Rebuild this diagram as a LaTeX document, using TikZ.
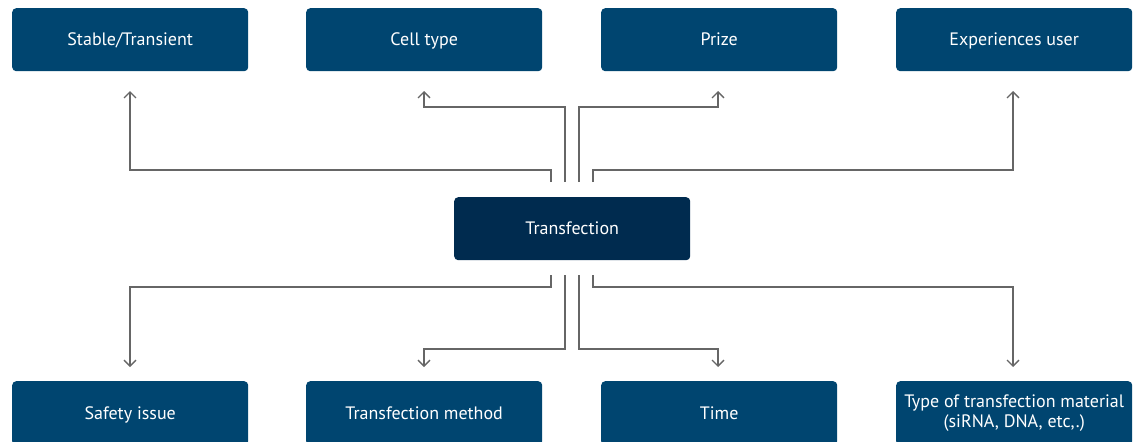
\documentclass[tikz,border=0pt]{standalone}
\usepackage{fontspec}
\setmainfont{PT Sans}
\usetikzlibrary{arrows.meta}
\definecolor{boxblue}{HTML}{004570}
\definecolor{centerblue}{HTML}{002B4F}
\definecolor{linegray}{HTML}{666666}
\begin{document}
\begin{tikzpicture}[x=1pt,y=-1pt,
  box/.style={fill=boxblue, rounded corners=4pt, text=white, font=\fontsize{18}{20}\selectfont, align=center, minimum width=236pt, minimum height=63pt, inner sep=0pt, anchor=north west},
  one/.style={text height=2.75ex, text depth=0.25ex},
  centerbox/.style={box, fill=centerblue},
  conn/.style={draw=linegray, line width=1.3pt, -{Straight Barb[length=6pt,width=12pt,line width=1.3pt]}}
]
\useasboundingbox (0,0) rectangle (1136,442);
\node[box, one] (st) at (12,8) {Stable/Transient};
\node[box, one] (ct) at (306,8) {Cell type};
\node[box, one] (pr) at (601,8) {Prize};
\node[box, one] (eu) at (896,8) {Experiences user};
\node[centerbox, one] (tr) at (454,197) {Transfection};
\node[box, one, minimum height=64pt] (si) at (12,381) {Safety issue};
\node[box, one, minimum height=64pt] (tm) at (306,381) {Transfection method};
\node[box, one, minimum height=64pt] (ti) at (601,381) {Time};
\node[box, minimum height=64pt] (ty) at (896,381) {Type of transfection material\\(siRNA, DNA, etc,.)};
% top connectors
\coordinate (a1) at (551,182);
\coordinate (a2) at (565,182);
\coordinate (a3) at (579,182);
\coordinate (a4) at (593,182);
\coordinate (t1) at (130,91);
\coordinate (t2) at (424,91);
\coordinate (t3) at (718,91);
\coordinate (t4) at (1013,91);
\draw[conn] (a1) |- (300,170) -| (t1);
\draw[conn] (a2) |- (500,107) -| (t2);
\draw[conn] (a3) |- (650,107) -| (t3);
\draw[conn] (a4) |- (800,170) -| (t4);
% bottom connectors
\coordinate (b1) at (551,275);
\coordinate (b2) at (565,275);
\coordinate (b3) at (579,275);
\coordinate (b4) at (593,275);
\coordinate (u1) at (130,367);
\coordinate (u2) at (424,367);
\coordinate (u3) at (718,367);
\coordinate (u4) at (1013,367);
\draw[conn] (b1) |- (300,287) -| (u1);
\draw[conn] (b2) |- (500,349) -| (u2);
\draw[conn] (b3) |- (650,349) -| (u3);
\draw[conn] (b4) |- (800,287) -| (u4);
\end{tikzpicture}
\end{document}
